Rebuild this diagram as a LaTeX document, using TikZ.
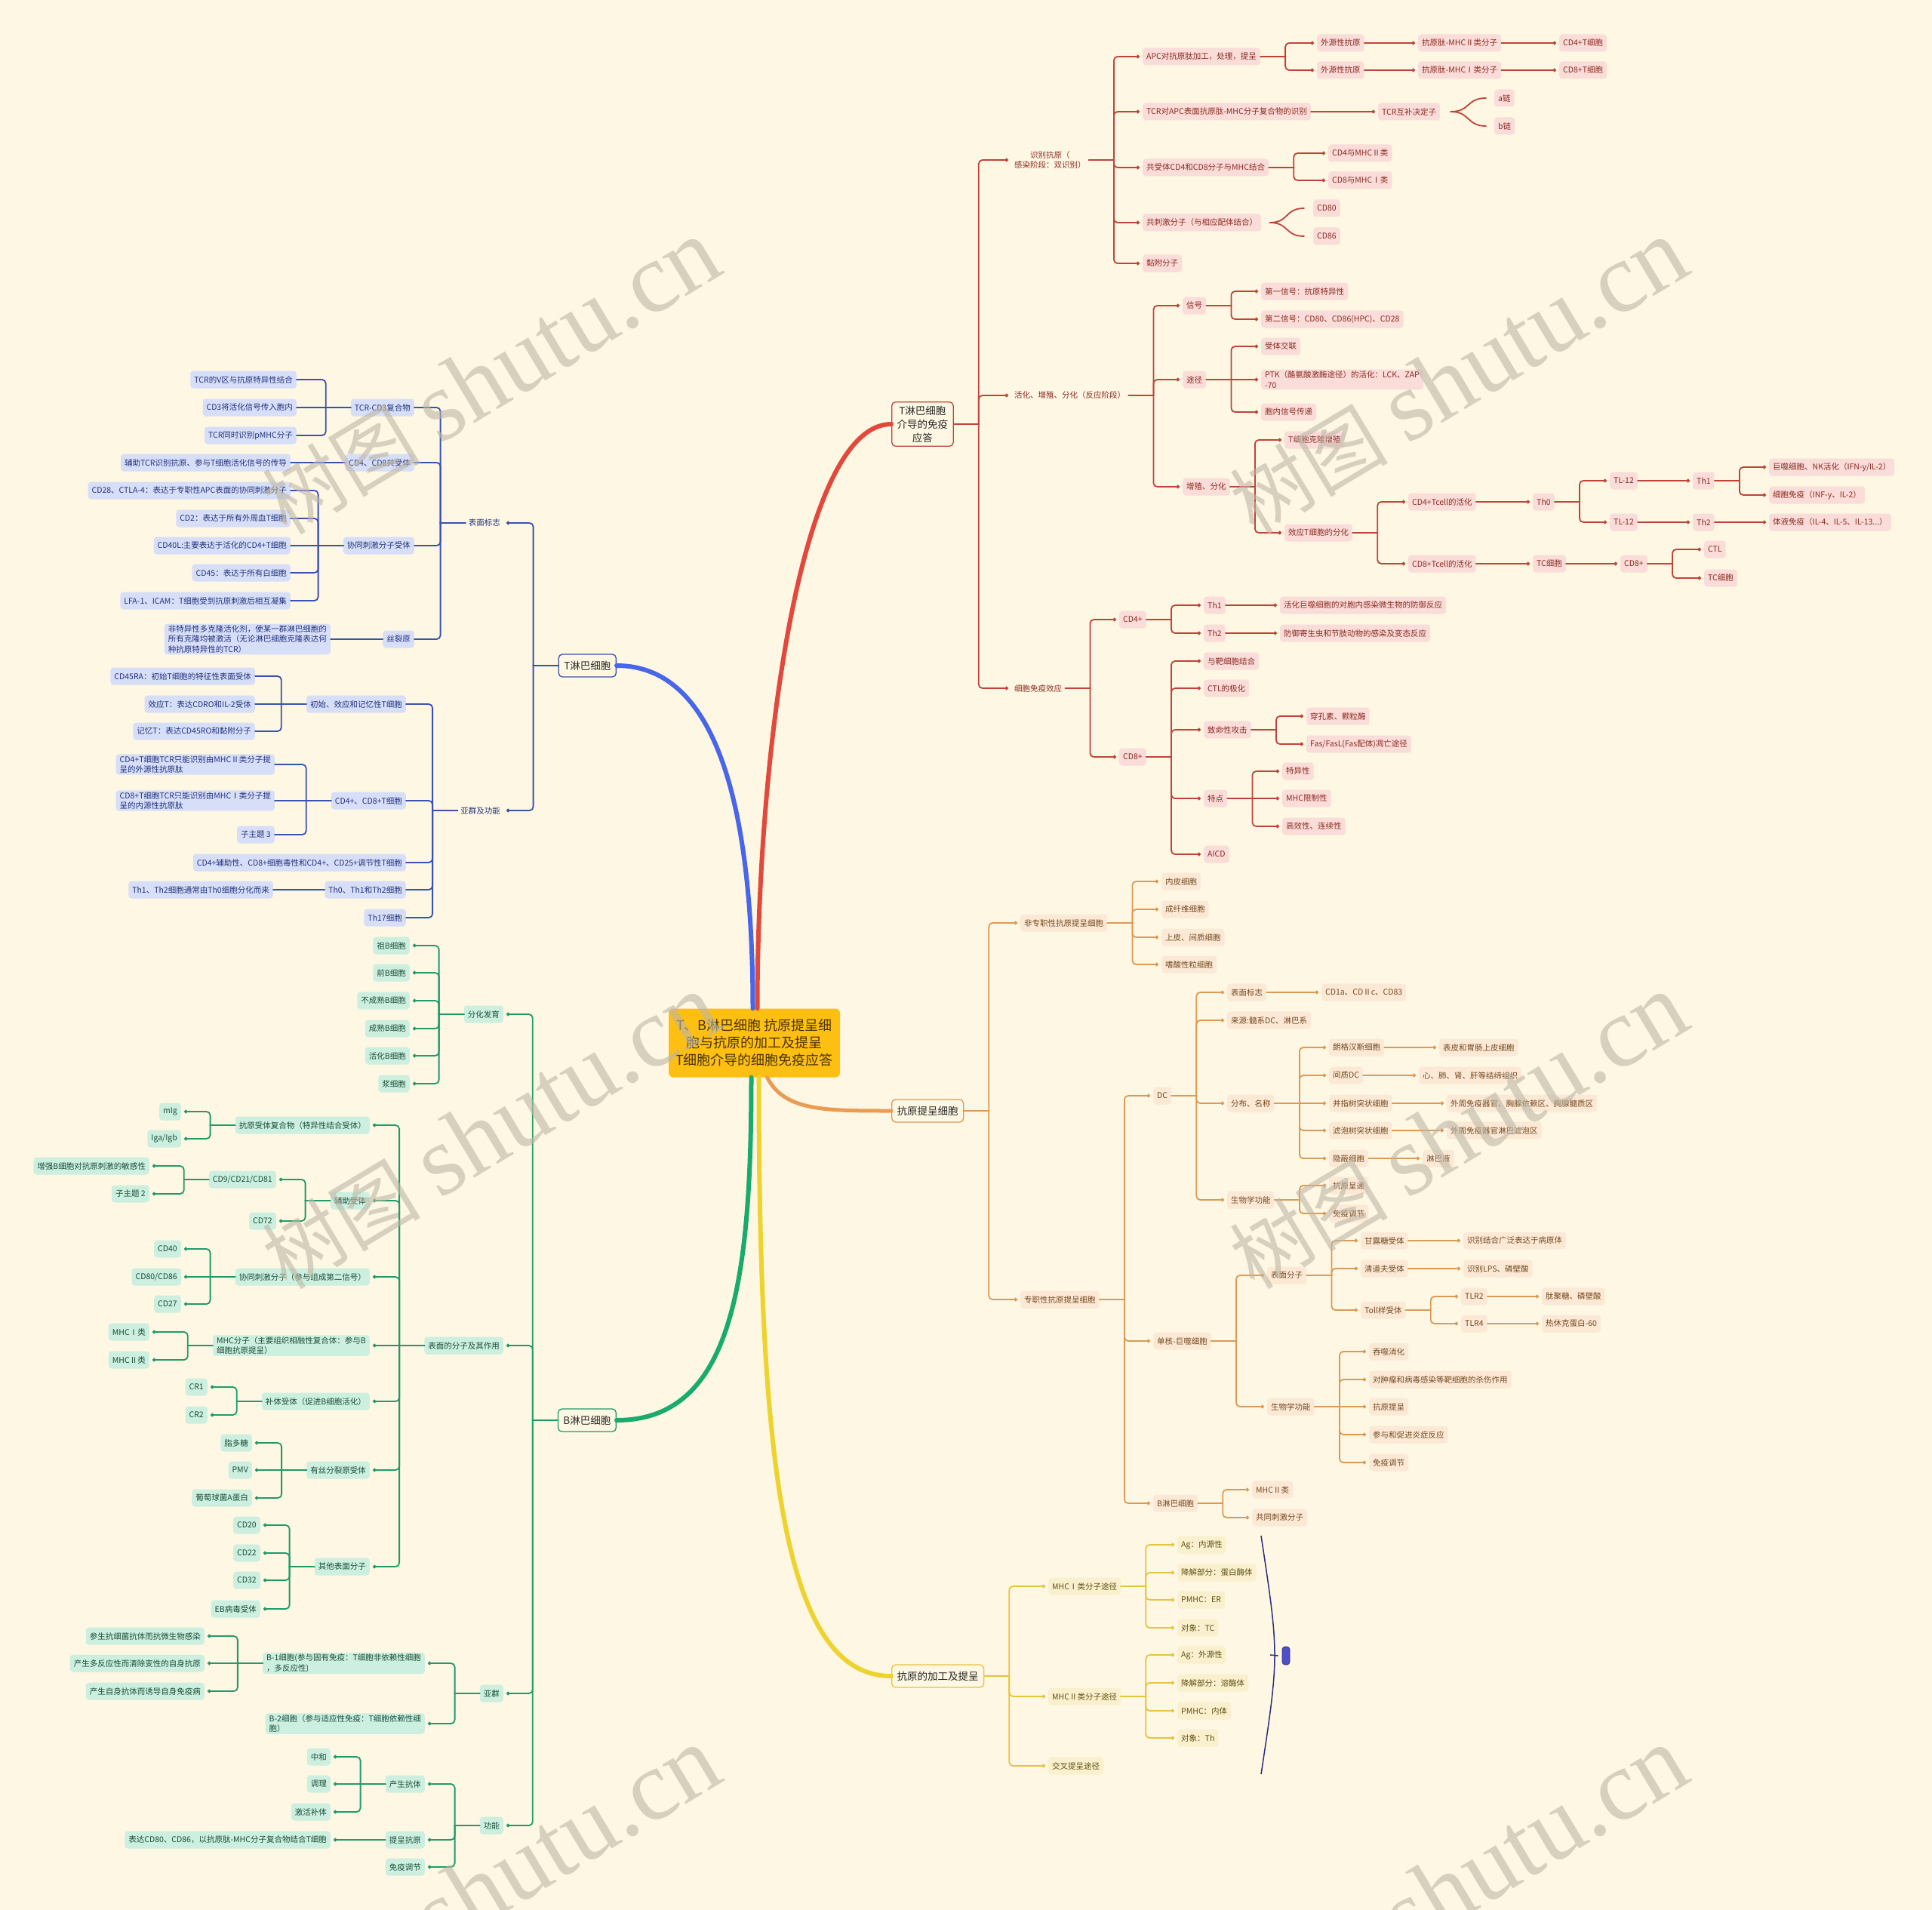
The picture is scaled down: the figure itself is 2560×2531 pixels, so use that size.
\documentclass[tikz,border=0pt]{standalone}
\usepackage{fontspec}
\setmainfont{Noto Sans CJK SC}
\newfontfamily\wmlatin{Liberation Serif}
\usepackage{tikz}
\usetikzlibrary{arrows.meta}

\definecolor{bgc}{HTML}{FEF7E3}
\definecolor{ctr}{HTML}{FDBF12}
\definecolor{ctrtx}{HTML}{4A3306}
\definecolor{redmain}{HTML}{E2483C}
\definecolor{redln}{HTML}{C0433A}
\definecolor{redfl}{HTML}{FADCD8}
\definecolor{redtx}{HTML}{8A2A22}
\definecolor{ormain}{HTML}{EA9C52}
\definecolor{orln}{HTML}{DB9A55}
\definecolor{orfl}{HTML}{FBE9D6}
\definecolor{ortx}{HTML}{74481E}
\definecolor{ylmain}{HTML}{EED22E}
\definecolor{ylln}{HTML}{E6C43C}
\definecolor{ylfl}{HTML}{FAF0CD}
\definecolor{yltx}{HTML}{5F4F14}
\definecolor{blmain}{HTML}{4866EA}
\definecolor{blln}{HTML}{3852B0}
\definecolor{blfl}{HTML}{D7DEF7}
\definecolor{bltx}{HTML}{22337C}
\definecolor{grmain}{HTML}{19AB6C}
\definecolor{grln}{HTML}{1F9B69}
\definecolor{grfl}{HTML}{CCEFDF}
\definecolor{grtx}{HTML}{1C4D3A}
\definecolor{sumcol}{HTML}{2C2C80}
\definecolor{sumfill}{HTML}{4F4FC6}
\definecolor{wmgray}{HTML}{BDB7A6}

\newcommand{\lf}{\fontsize{10.5}{13.5}\selectfont}

\tikzset{
	leaf/.style={rounded corners=4pt, inner xsep=5pt, inner ysep=2pt, minimum height=23pt, font=\lf, align=left},
	rbox/.style={leaf, fill=redfl, text=redtx},
	obox/.style={leaf, fill=orfl, text=ortx},
	ybox/.style={leaf, fill=ylfl, text=yltx},
	bbox/.style={leaf, fill=blfl, text=bltx},
	gbox/.style={leaf, fill=grfl, text=grtx},
	plain/.style={font=\lf, inner sep=4pt, align=center},
	topic/.style={draw=#1, fill=bgc, line width=1.3pt, rounded corners=5pt, inner xsep=7pt, inner ysep=5pt, minimum height=30pt, font=\fontsize{13.5}{18}\selectfont, text=black!85, align=center},
	link/.style={line width=1.8pt, line cap=round},
	dot/.style={-{Circle[length=4.5pt]}, shorten >=4pt},
	goright/.style={to path={-- ++(33,0) [rounded corners=5pt] |- (\tikztotarget)}},
	goleft/.style={to path={-- ++(-33,0) [rounded corners=5pt] |- (\tikztotarget)}},
	rl/.style={link, draw=redln, dot},
	rbrace/.style={link, draw=redln},
	ol/.style={link, draw=orln, dot},
	yl/.style={link, draw=ylln, dot},
	bl/.style={link, draw=blln},
	gl/.style={link, draw=grln, dot},
	mainline/.style={line width=6pt, line cap=round},
	wmark/.style={rotate=31, text=wmgray, opacity=0.6, font=\fontsize{105}{105}\selectfont},
}

\begin{document}
\begin{tikzpicture}[x=1pt, y=-1pt]
\fill[bgc] (0,0) rectangle (2560,2531);
\useasboundingbox (0,0) rectangle (2560,2531);

% centre
\node[fill=ctr, rounded corners=6pt, text=ctrtx, font=\fontsize{18}{23}\selectfont, align=center, minimum width=227pt, minimum height=91pt] (root) at (999.5,1382) {T、B淋巴细胞 抗原提呈细\\胞与抗原的加工及提呈\\T细胞介导的细胞免疫应答};

% ---------------- T cell mediated response (red)
\node[topic=redln, anchor=west] (tmed) at (1181,562) {T淋巴细胞\\介导的免疫\\应答};
\node[plain, text=redtx, anchor=west] (rec) at (1340,212) {识别抗原（\\感染阶段：双识别）};
\node[rbox, anchor=west] (apc) at (1514,75) {APC对抗原肽加工，处理，提呈};
\node[rbox, anchor=west] (tcrr) at (1514,148) {TCR对APC表面抗原肽-MHC分子复合物的识别};
\node[rbox, anchor=west] (corec) at (1514,222) {共受体CD4和CD8分子与MHC结合};
\node[rbox, anchor=west] (costim) at (1514,295) {共刺激分子（与相应配体结合）};
\node[rbox, anchor=west] (adh) at (1514,349) {黏附分子};
\node[rbox, anchor=west] (exo1) at (1745,57) {外源性抗原};
\node[rbox, anchor=west] (exo2) at (1745,93) {外源性抗原};
\node[rbox, anchor=west] (pmhc2) at (1879,57) {抗原肽-MHCⅡ类分子};
\node[rbox, anchor=west] (pmhc1) at (1879,93) {抗原肽-MHCⅠ类分子};
\node[rbox, anchor=west] (cd4t) at (2066,57) {CD4+T细胞};
\node[rbox, anchor=west] (cd8t) at (2066,93) {CD8+T细胞};
\node[rbox, anchor=west] (cdr) at (1826,148) {TCR互补决定子};
\node[rbox, anchor=west] (achain) at (1980,130) {a链};
\node[rbox, anchor=west] (bchain) at (1980,167) {b链};
\node[rbox, anchor=west] (cd4m) at (1760,203) {CD4与MHCⅡ类};
\node[rbox, anchor=west] (cd8m) at (1760,239) {CD8与MHCⅠ类};
\node[rbox, anchor=west] (cd80) at (1740,276) {CD80};
\node[rbox, anchor=west] (cd86) at (1740,313) {CD86};

\node[plain, text=redtx, anchor=west] (act) at (1340,524) {活化、增殖、分化（反应阶段）};
\node[rbox, anchor=west] (sig) at (1567,405) {信号};
\node[rbox, anchor=west] (route) at (1567,503) {途径};
\node[rbox, anchor=west] (prol) at (1567,645) {增殖、分化};
\node[rbox, anchor=west] (sig1) at (1671,386) {第一信号：抗原特异性};
\node[rbox, anchor=west] (sig2) at (1671,423) {第二信号：CD80、CD86(HPC)、CD28};
\node[rbox, anchor=west] (xlink) at (1671,459) {受体交联};
\node[rbox, anchor=west] (ptk) at (1671,503) {PTK（酪氨酸激酶途径）的活化：LCK、ZAP\\-70};
\node[rbox, anchor=west] (intra) at (1671,546) {胞内信号传递};
\node[rbox, anchor=west] (clone) at (1702,583) {T细胞克隆增殖};
\node[rbox, anchor=west] (effd) at (1702,706) {效应T细胞的分化};
\node[rbox, anchor=west] (cd4a) at (1866,665) {CD4+Tcell的活化};
\node[rbox, anchor=west] (cd8a) at (1866,747) {CD8+Tcell的活化};
\node[rbox, anchor=west] (thzero) at (2031,665) {Th0};
\node[rbox, anchor=west] (tla) at (2133,637) {TL-12};
\node[rbox, anchor=west] (tlb) at (2133,692) {TL-12};
\node[rbox, anchor=west] (thone) at (2243,637) {Th1};
\node[rbox, anchor=west] (thtwo) at (2243,692) {Th2};
\node[rbox, anchor=west] (macnk) at (2344,619) {巨噬细胞、NK活化（IFN-y/IL-2）};
\node[rbox, anchor=west] (cimm) at (2344,656) {细胞免疫（INF-y、IL-2）};
\node[rbox, anchor=west] (humo) at (2344,692) {体液免疫（IL-4、IL-5、IL-13...）};
\node[rbox, anchor=west] (tcc) at (2031,747) {TC细胞};
\node[rbox, anchor=west] (cd8p) at (2147,747) {CD8+};
\node[rbox, anchor=west] (ctl) at (2258,728) {CTL};
\node[rbox, anchor=west] (tcc2) at (2258,766) {TC细胞};

\node[plain, text=redtx, anchor=west] (eff) at (1340,912) {细胞免疫效应};
\node[rbox, anchor=west] (ecd4) at (1483,821) {CD4+};
\node[rbox, anchor=west] (ecd8) at (1483,1003) {CD8+};
\node[rbox, anchor=west] (eth1) at (1595,802) {Th1};
\node[rbox, anchor=west] (eth2) at (1595,839) {Th2};
\node[rbox, anchor=west] (eth1d) at (1696,802) {活化巨噬细胞的对胞内感染微生物的防御反应};
\node[rbox, anchor=west] (eth2d) at (1696,839) {防御寄生虫和节肢动物的感染及变态反应};
\node[rbox, anchor=west] (bind) at (1595,876) {与靶细胞结合};
\node[rbox, anchor=west] (polar) at (1595,912) {CTL的极化};
\node[rbox, anchor=west] (kill) at (1595,967) {致命性攻击};
\node[rbox, anchor=west] (feat) at (1595,1058) {特点};
\node[rbox, anchor=west] (aicd) at (1595,1132) {AICD};
\node[rbox, anchor=west] (perf) at (1731,949) {穿孔素、颗粒酶};
\node[rbox, anchor=west] (fas) at (1731,986) {Fas/FasL(Fas配体)凋亡途径};
\node[rbox, anchor=west] (spec) at (1699,1022) {特异性};
\node[rbox, anchor=west] (mhcr) at (1699,1058) {MHC限制性};
\node[rbox, anchor=west] (effi) at (1699,1095) {高效性、连续性};

\foreach \nd in {rec,act,eff} \draw[rl] (tmed.east) to[goright] (\nd.west);
\foreach \nd in {apc,tcrr,corec,costim,adh} \draw[rl] (rec.east) to[goright] (\nd.west);
\foreach \nd in {exo1,exo2} \draw[rl] (apc.east) to[goright] (\nd.west);
\foreach \a/\b in {exo1/pmhc2,exo2/pmhc1,pmhc2/cd4t,pmhc1/cd8t,tcrr/cdr} \draw[rl] (\a.east) -- (\b.west);
\foreach \nd in {achain,bchain} \draw[rbrace] ([xshift=14pt]cdr.east) .. controls +(26,0) and +(-26,0) .. ([xshift=-11pt]\nd.west);
\foreach \nd in {cd4m,cd8m} \draw[rl] (corec.east) to[goright] (\nd.west);
\foreach \nd in {cd80,cd86} \draw[rbrace] ([xshift=11pt]costim.east) .. controls +(26,0) and +(-26,0) .. ([xshift=-12pt]\nd.west);
\foreach \nd in {sig,route,prol} \draw[rl] (act.east) to[goright] (\nd.west);
\foreach \nd in {sig1,sig2} \draw[rl] (sig.east) to[goright] (\nd.west);
\foreach \nd in {xlink,intra} \draw[rl] (route.east) to[goright] (\nd.west);
\draw[rl] (route.east) -- (ptk.west);
\foreach \nd in {clone,effd} \draw[rl] (prol.east) to[goright] (\nd.west);
\foreach \nd in {cd4a,cd8a} \draw[rl] (effd.east) to[goright] (\nd.west);
\foreach \nd in {tla,tlb} \draw[rl] (thzero.east) to[goright] (\nd.west);
\foreach \nd in {macnk,cimm} \draw[rl] (thone.east) to[goright] (\nd.west);
\foreach \a/\b in {cd4a/thzero,tla/thone,tlb/thtwo,thtwo/humo,cd8a/tcc,tcc/cd8p} \draw[rl] (\a.east) -- (\b.west);
\foreach \nd in {ctl,tcc2} \draw[rl] (cd8p.east) to[goright] (\nd.west);
\foreach \nd in {ecd4,ecd8} \draw[rl] (eff.east) to[goright] (\nd.west);
\foreach \nd in {eth1,eth2} \draw[rl] (ecd4.east) to[goright] (\nd.west);
\foreach \a/\b in {eth1/eth1d,eth2/eth2d} \draw[rl] (\a.east) -- (\b.west);
\foreach \nd in {bind,polar,kill,feat,aicd} \draw[rl] (ecd8.east) to[goright] (\nd.west);
\foreach \nd in {perf,fas} \draw[rl] (kill.east) to[goright] (\nd.west);
\foreach \nd in {spec,effi} \draw[rl] (feat.east) to[goright] (\nd.west);
\draw[rl] (feat.east) -- (mhcr.west);

% ---------------- antigen presenting cells (orange)
\node[topic=orln, anchor=west] (apcn) at (1181,1472) {抗原提呈细胞};
\node[obox, anchor=west] (nonpro) at (1352,1223) {非专职性抗原提呈细胞};
\node[obox, anchor=west] (pro) at (1352,1722) {专职性抗原提呈细胞};
\node[obox, anchor=west] (endo) at (1539,1168) {内皮细胞};
\node[obox, anchor=west] (fibro) at (1539,1205) {成纤维细胞};
\node[obox, anchor=west] (epi) at (1539,1242) {上皮、间质细胞};
\node[obox, anchor=west] (eos) at (1539,1278) {嗜酸性粒细胞};
\node[obox, anchor=west] (dc) at (1528,1452) {DC};
\node[obox, anchor=west] (mono) at (1528,1777) {单核-巨噬细胞};
\node[obox, anchor=west] (bapc) at (1528,1992) {B淋巴细胞};
\node[obox, anchor=west] (dcmark) at (1626,1315) {表面标志};
\node[obox, anchor=west] (dcsrc) at (1626,1352) {来源:髓系DC、淋巴系};
\node[obox, anchor=west] (dcdist) at (1626,1462) {分布、名称};
\node[obox, anchor=west] (dcfun) at (1626,1590) {生物学功能};
\node[obox, anchor=west] (dcmarkd) at (1751,1315) {CD1a、CDⅡc、CD83};
\node[obox, anchor=west] (lang) at (1761,1388) {朗格汉斯细胞};
\node[obox, anchor=west] (idc) at (1761,1425) {间质DC};
\node[obox, anchor=west] (interd) at (1761,1462) {并指树突状细胞};
\node[obox, anchor=west] (fdc) at (1761,1498) {滤泡树突状细胞};
\node[obox, anchor=west] (veil) at (1761,1535) {隐蔽细胞};
\node[obox, anchor=west] (langd) at (1907,1388) {表皮和胃肠上皮细胞};
\node[obox, anchor=west] (idcd) at (1880,1425) {心、肺、肾、肝等结缔组织};
\node[obox, anchor=west] (interdd) at (1917,1462) {外周免疫器官、胸腺依赖区、胸腺髓质区};
\node[obox, anchor=west] (fdcd) at (1917,1498) {外周免疫器官淋巴滤泡区};
\node[obox, anchor=west] (veild) at (1885,1535) {淋巴液};
\node[obox, anchor=west] (dcpres) at (1761,1571) {抗原呈递};
\node[obox, anchor=west] (dcreg) at (1761,1608) {免疫调节};
\node[obox, anchor=west] (msurf) at (1679,1690) {表面分子};
\node[obox, anchor=west] (mfun) at (1679,1864) {生物学功能};
\node[obox, anchor=west] (mann) at (1803,1644) {甘露糖受体};
\node[obox, anchor=west] (scav) at (1803,1681) {清道夫受体};
\node[obox, anchor=west] (toll) at (1803,1736) {Toll样受体};
\node[obox, anchor=west] (mannd) at (1939,1644) {识别结合广泛表达于病原体};
\node[obox, anchor=west] (scavd) at (1939,1681) {识别LPS、磷壁酸};
\node[obox, anchor=west] (tlrtwo) at (1936,1718) {TLR2};
\node[obox, anchor=west] (tlrfour) at (1936,1754) {TLR4};
\node[obox, anchor=west] (tlrtwod) at (2043,1718) {肽聚糖、磷壁酸};
\node[obox, anchor=west] (tlrfourd) at (2043,1754) {热休克蛋白-60};
\node[obox, anchor=west] (phag) at (1814,1791) {吞噬消化};
\node[obox, anchor=west] (mkill) at (1814,1828) {对肿瘤和病毒感染等靶细胞的杀伤作用};
\node[obox, anchor=west] (mpres) at (1814,1864) {抗原提呈};
\node[obox, anchor=west] (infl) at (1814,1901) {参与和促进炎症反应};
\node[obox, anchor=west] (mreg) at (1814,1938) {免疫调节};
\node[obox, anchor=west] (bmhc) at (1659,1974) {MHCⅡ类};
\node[obox, anchor=west] (bco) at (1659,2011) {共同刺激分子};

\foreach \nd in {nonpro,pro} \draw[ol] (apcn.east) to[goright] (\nd.west);
\foreach \nd in {endo,fibro,epi,eos} \draw[ol] (nonpro.east) to[goright] (\nd.west);
\foreach \nd in {dc,mono,bapc} \draw[ol] (pro.east) to[goright] (\nd.west);
\foreach \nd in {dcmark,dcsrc,dcdist,dcfun} \draw[ol] (dc.east) to[goright] (\nd.west);
\foreach \nd in {lang,idc,fdc,veil} \draw[ol] (dcdist.east) to[goright] (\nd.west);
\draw[ol] (dcdist.east) -- (interd.west);
\foreach \nd in {dcpres,dcreg} \draw[ol] (dcfun.east) to[goright] (\nd.west);
\foreach \nd in {msurf,mfun} \draw[ol] (mono.east) to[goright] (\nd.west);
\foreach \nd in {mann,scav,toll} \draw[ol] (msurf.east) to[goright] (\nd.west);
\foreach \nd in {tlrtwo,tlrfour} \draw[ol] (toll.east) to[goright] (\nd.west);
\foreach \nd in {phag,mkill,infl,mreg} \draw[ol] (mfun.east) to[goright] (\nd.west);
\draw[ol] (mfun.east) -- (mpres.west);
\foreach \nd in {bmhc,bco} \draw[ol] (bapc.east) to[goright] (\nd.west);
\foreach \a/\b in {dcmark/dcmarkd,lang/langd,idc/idcd,interd/interdd,fdc/fdcd,veil/veild,mann/mannd,scav/scavd,tlrtwo/tlrtwod,tlrfour/tlrfourd} \draw[ol] (\a.east) -- (\b.west);

% ---------------- processing and presentation (yellow)
\node[topic=ylln, anchor=west] (proc) at (1181,2221) {抗原的加工及提呈};
\node[ybox, anchor=west] (mhcip) at (1389,2102) {MHCⅠ类分子途径};
\node[ybox, anchor=west] (mhciip) at (1389,2248) {MHCⅡ类分子途径};
\node[ybox, anchor=west] (cross) at (1389,2340) {交叉提呈途径};
\node[ybox, anchor=west] (agone) at (1560,2047) {Ag：内源性};
\node[ybox, anchor=west] (degone) at (1560,2084) {降解部分：蛋白酶体};
\node[ybox, anchor=west] (pmone) at (1560,2120) {PMHC：ER};
\node[ybox, anchor=west] (tgone) at (1560,2157) {对象：TC};
\node[ybox, anchor=west] (agtwo) at (1560,2193) {Ag：外源性};
\node[ybox, anchor=west] (degtwo) at (1560,2230) {降解部分：溶酶体};
\node[ybox, anchor=west] (pmtwo) at (1560,2267) {PMHC：内体};
\node[ybox, anchor=west] (tgtwo) at (1560,2303) {对象：Th};

\foreach \nd in {mhcip,mhciip,cross} \draw[yl] (proc.east) to[goright] (\nd.west);
\foreach \nd in {agone,degone,pmone,tgone} \draw[yl] (mhcip.east) to[goright] (\nd.west);
\foreach \nd in {agtwo,degtwo,pmtwo,tgtwo} \draw[yl] (mhciip.east) to[goright] (\nd.west);

% summary bracket
\coordinate (arctop) at (1671,2035);
\coordinate (arcbot) at (1671,2351);
\coordinate (arcmid) at (1683,2193);
\draw[line width=1.5pt, sumcol] (arctop) .. controls (1695,2193) .. (arcbot);
\node[fill=sumfill, draw=sumcol, line width=0.8pt, rounded corners=4pt, minimum width=10pt, minimum height=24pt, inner sep=0pt] (sumbox) at (1704,2194) {};
\draw[line width=1.5pt, sumcol] (arcmid) -- ([xshift=-5pt]sumbox.west);

% ---------------- T lymphocytes (blue)
\node[topic=blln, anchor=east] (tcell) at (817,882) {T淋巴细胞};
\node[plain, text=bltx, anchor=east] (surf) at (667,693) {表面标志};
\node[plain, text=bltx, anchor=east] (subt) at (667,1074) {亚群及功能};
\node[bbox, anchor=east] (tcrc) at (549,540) {TCR-CD3复合物};
\node[bbox, anchor=east] (coreb) at (549,613) {CD4、CD8共受体};
\node[bbox, anchor=east] (costb) at (549,723) {协同刺激分子受体};
\node[bbox, anchor=east] (mito) at (549,847) {丝裂原};
\node[bbox, anchor=east] (tcrv) at (393,503) {TCR的V区与抗原特异性结合};
\node[bbox, anchor=east] (cdthree) at (393,540) {CD3将活化信号传入胞内};
\node[bbox, anchor=east] (pmhc) at (393,577) {TCR同时识别pMHC分子};
\node[bbox, anchor=east] (coredesc) at (385,613) {辅助TCR识别抗原、参与T细胞活化信号的传导};
\node[bbox, anchor=east] (cdtwe) at (385,650) {CD28、CTLA-4：表达于专职性APC表面的协同刺激分子};
\node[bbox, anchor=east] (cdtwo) at (385,687) {CD2：表达于所有外周血T细胞};
\node[bbox, anchor=east] (cdfl) at (385,723) {CD40L:主要表达于活化的CD4+T细胞};
\node[bbox, anchor=east] (cdff) at (385,759) {CD45：表达于所有白细胞};
\node[bbox, anchor=east] (lfa) at (385,796) {LFA-1、ICAM：T细胞受到抗原刺激后相互凝集};
\node[bbox, anchor=east] (mitod) at (438,847) {非特异性多克隆活化剂，使某一群淋巴细胞的\\所有克隆均被激活（无论淋巴细胞克隆表达何\\种抗原特异性的TCR）};
\node[bbox, anchor=east] (naive) at (538,933) {初始、效应和记忆性T细胞};
\node[bbox, anchor=east] (cdfe) at (538,1061) {CD4+、CD8+T细胞};
\node[bbox, anchor=east] (subs) at (538,1143) {CD4+辅助性、CD8+细胞毒性和CD4+、CD25+调节性T细胞};
\node[bbox, anchor=east] (thz) at (538,1179) {Th0、Th1和Th2细胞};
\node[bbox, anchor=east] (thse) at (538,1216) {Th17细胞};
\node[bbox, anchor=east] (cdra) at (338,896) {CD45RA：初始T细胞的特征性表面受体};
\node[bbox, anchor=east] (efft) at (338,933) {效应T：表达CDRO和IL-2受体};
\node[bbox, anchor=east] (memt) at (338,969) {记忆T：表达CD45RO和黏附分子};
\node[bbox, anchor=east] (cdfr) at (364,1013) {CD4+T细胞TCR只能识别由MHCⅡ类分子提\\呈的外源性抗原肽};
\node[bbox, anchor=east] (cder) at (364,1061) {CD8+T细胞TCR只能识别由MHCⅠ类分子提\\呈的内源性抗原肽};
\node[bbox, anchor=east] (subthree) at (364,1106) {子主题 3};
\node[bbox, anchor=east] (thzd) at (362,1179) {Th1、Th2细胞通常由Th0细胞分化而来};

\foreach \nd in {surf,subt} \draw[bl, dot] (tcell.west) to[goleft] (\nd.east);
\foreach \nd in {tcrc,coreb,costb,mito} \draw[bl] (surf.west) to[goleft] (\nd.east);
\foreach \nd in {tcrv,pmhc} \draw[bl] (tcrc.west) to[goleft] (\nd.east);
\foreach \nd in {cdtwe,cdtwo,cdff,lfa} \draw[bl] (costb.west) to[goleft] (\nd.east);
\foreach \nd in {naive,cdfe,subs,thz,thse} \draw[bl] (subt.west) to[goleft] (\nd.east);
\foreach \nd in {cdra,memt} \draw[bl] (naive.west) to[goleft] (\nd.east);
\foreach \nd in {cdfr,subthree} \draw[bl] (cdfe.west) to[goleft] (\nd.east);
\foreach \a/\b in {tcrc/cdthree,coreb/coredesc,costb/cdfl,mito/mitod,naive/efft,cdfe/cder,thz/thzd} \draw[bl] (\a.west) -- (\b.east);

% ---------------- B lymphocytes (green)
\node[topic=grln, anchor=east] (bcell) at (817,1882) {B淋巴细胞};
\node[gbox, anchor=east] (diff) at (667,1344) {分化发育};
\node[gbox, anchor=east] (bsurf) at (667,1783) {表面的分子及其作用};
\node[gbox, anchor=east] (bsub) at (667,2244) {亚群};
\node[gbox, anchor=east] (bfun) at (667,2419) {功能};
\node[gbox, anchor=east] (dpro) at (543,1253) {祖B细胞};
\node[gbox, anchor=east] (dpre) at (543,1289) {前B细胞};
\node[gbox, anchor=east] (dimm) at (543,1326) {不成熟B细胞};
\node[gbox, anchor=east] (dmat) at (543,1363) {成熟B细胞};
\node[gbox, anchor=east] (dact) at (543,1399) {活化B细胞};
\node[gbox, anchor=east] (dpla) at (543,1436) {浆细胞};
\node[gbox, anchor=east] (brec) at (490,1491) {抗原受体复合物（特异性结合受体）};
\node[gbox, anchor=east] (aux) at (490,1591) {辅助受体};
\node[gbox, anchor=east] (bcost) at (490,1692) {协同刺激分子（参与组成第二信号）};
\node[gbox, anchor=east] (bmhcm) at (490,1783) {MHC分子（主要组织相融性复合体：参与B\\细胞抗原提呈）};
\node[gbox, anchor=east] (comp) at (490,1857) {补体受体（促进B细胞活化）};
\node[gbox, anchor=east] (mitr) at (490,1948) {有丝分裂原受体};
\node[gbox, anchor=east] (other) at (490,2076) {其他表面分子};
\node[gbox, anchor=east] (mig) at (240,1473) {mIg};
\node[gbox, anchor=east] (igab) at (240,1509) {Iga/Igb};
\node[gbox, anchor=east] (cdx) at (366,1563) {CD9/CD21/CD81};
\node[gbox, anchor=east] (cdsevtwo) at (366,1618) {CD72};
\node[gbox, anchor=east] (sens) at (198,1545) {增强B细胞对抗原刺激的敏感性};
\node[gbox, anchor=east] (subtwo) at (198,1582) {子主题 2};
\node[gbox, anchor=east] (cdforty) at (240,1655) {CD40};
\node[gbox, anchor=east] (cdeighty) at (240,1692) {CD80/CD86};
\node[gbox, anchor=east] (cdtwsev) at (240,1728) {CD27};
\node[gbox, anchor=east] (mhcone) at (198,1765) {MHCⅠ类};
\node[gbox, anchor=east] (mhctwo) at (198,1802) {MHCⅡ类};
\node[gbox, anchor=east] (crone) at (275,1838) {CR1};
\node[gbox, anchor=east] (crtwo) at (275,1875) {CR2};
\node[gbox, anchor=east] (lps) at (334,1912) {脂多糖};
\node[gbox, anchor=east] (pmv) at (334,1948) {PMV};
\node[gbox, anchor=east] (spa) at (334,1985) {葡萄球菌A蛋白};
\node[gbox, anchor=east] (cdtw) at (345,2021) {CD20};
\node[gbox, anchor=east] (cdtt) at (345,2058) {CD22};
\node[gbox, anchor=east] (cdtht) at (345,2094) {CD32};
\node[gbox, anchor=east] (ebv) at (345,2132) {EB病毒受体};
\node[gbox, anchor=east] (bone) at (563,2204) {B-1细胞(参与固有免疫：T细胞非依赖性细胞\\，多反应性)};
\node[gbox, anchor=east] (btwo) at (563,2284) {B-2细胞（参与适应性免疫：T细胞依赖性细\\胞）};
\node[gbox, anchor=east] (bonea) at (271,2168) {参生抗细菌抗体而抗微生物感染};
\node[gbox, anchor=east] (boneb) at (271,2204) {产生多反应性而清除变性的自身抗原};
\node[gbox, anchor=east] (bonec) at (271,2241) {产生自身抗体而诱导自身免疫病};
\node[gbox, anchor=east] (abp) at (563,2364) {产生抗体};
\node[gbox, anchor=east] (bpres) at (563,2438) {提呈抗原};
\node[gbox, anchor=east] (breg) at (563,2474) {免疫调节};
\node[gbox, anchor=east] (neut) at (438,2328) {中和};
\node[gbox, anchor=east] (opso) at (438,2364) {调理};
\node[gbox, anchor=east] (compa) at (438,2401) {激活补体};
\node[gbox, anchor=east] (bpresd) at (438,2438) {表达CD80、CD86，以抗原肽-MHC分子复合物结合T细胞};

\foreach \nd in {diff,bsurf,bsub,bfun} \draw[gl] (bcell.west) to[goleft] (\nd.east);
\foreach \nd in {dpro,dpre,dimm,dmat,dact,dpla} \draw[gl] (diff.west) to[goleft] (\nd.east);
\foreach \nd in {brec,aux,bcost,comp,mitr,other} \draw[gl] (bsurf.west) to[goleft] (\nd.east);
\foreach \nd in {mig,igab} \draw[gl] (brec.west) to[goleft] (\nd.east);
\foreach \nd in {cdx,cdsevtwo} \draw[gl] (aux.west) to[goleft] (\nd.east);
\foreach \nd in {sens,subtwo} \draw[gl] (cdx.west) to[goleft] (\nd.east);
\foreach \nd in {cdforty,cdtwsev} \draw[gl] (bcost.west) to[goleft] (\nd.east);
\foreach \nd in {mhcone,mhctwo} \draw[gl] (bmhcm.west) to[goleft] (\nd.east);
\foreach \nd in {crone,crtwo} \draw[gl] (comp.west) to[goleft] (\nd.east);
\foreach \nd in {lps,spa} \draw[gl] (mitr.west) to[goleft] (\nd.east);
\foreach \nd in {cdtw,cdtt,cdtht,ebv} \draw[gl] (other.west) to[goleft] (\nd.east);
\foreach \nd in {bone,btwo} \draw[gl] (bsub.west) to[goleft] (\nd.east);
\foreach \nd in {bonea,bonec} \draw[gl] (bone.west) to[goleft] (\nd.east);
\foreach \nd in {abp,bpres,breg} \draw[gl] (bfun.west) to[goleft] (\nd.east);
\foreach \nd in {neut,compa} \draw[gl] (abp.west) to[goleft] (\nd.east);
\foreach \a/\b in {bsurf/bmhcm,bcost/cdeighty,mitr/pmv,bone/boneb,abp/opso,bpres/bpresd} \draw[gl] (\a.west) -- (\b.east);

% ---------------- main branches
\draw[mainline, redmain] ([xshift=4pt]root.north) .. controls +(0,-337) and +(-121,0) .. (tmed.west);
\draw[mainline, blmain] ([xshift=-2pt]root.north) .. controls +(0,-237) and +(143,0) .. (tcell.east);
\draw[mainline, ormain, line width=5pt] ([xshift=17pt]root.south) .. controls +(23,44) and +(-91,0) .. (apcn.west);
\draw[mainline, grmain] ([xshift=-4pt]root.south) .. controls +(0,272) and +(153,0) .. (bcell.east);
\draw[mainline, ylmain] ([xshift=6pt]root.south) .. controls +(0,522) and +(-141,0) .. (proc.west);

% watermark
\foreach \wx/\wy [count=\i] in {650/500,1932/500,650/1500,1932/1500,650/2498,1932/2498}
	\node[wmark] (wm\i) at (\wx,\wy) {树图\hspace{0.25em}{\wmlatin\fontsize{132}{132}\selectfont shutu.cn}};
\end{tikzpicture}
\end{document}
